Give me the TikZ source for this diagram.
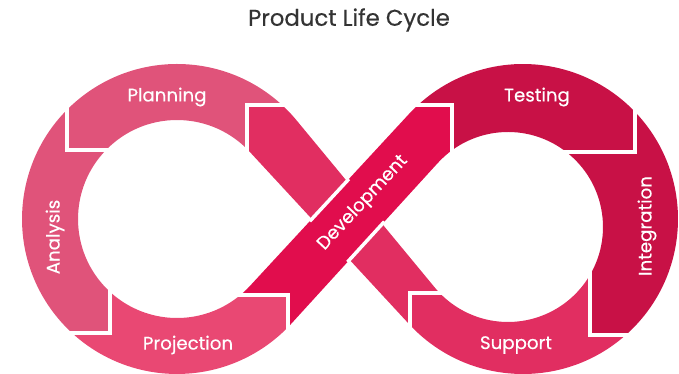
\documentclass[tikz,border=0pt]{standalone}
\usepackage{fontspec}
\setmainfont{Poppins}
\newfontfamily\cyclefont{Poppins}[FakeBold=0.4]
\usetikzlibrary{positioning}

\definecolor{cycplan}{HTML}{E0537A}
\definecolor{cycproj}{HTML}{E94873}
\definecolor{cycsupp}{HTML}{E12E61}
\definecolor{cycdev}{HTML}{E10D4D}
\definecolor{cyctest}{HTML}{C81146}
\definecolor{titlegray}{HTML}{333333}

% Contorno del infinito (con los dos huecos)
\newcommand{\infinityshape}{
    (296.45,253.78) arc[start angle=39.59, end angle=317.65, radius=155]
    -- (349.57,114.24) -- (409.21,49.75)
    arc[start angle=222.77, end angle=497.23, radius=155]
    -- (346.85,192.83) -- cycle
    (311.86,155) -- (249.68,222.22)
    arc[start angle=42.77, end angle=317.23, radius=99] -- cycle
    (382.23,150.06) -- (437.79,211.00)
    arc[start angle=137.65, end angle=-140.41, radius=95] -- cycle
}
% Un tramo = el contorno recortado por un polígono
\newcommand{\segfill}[2]{
    \begin{scope}
        \clip #2;
        \fill[#1, even odd rule] \infinityshape;
    \end{scope}
}

\begin{document}
\begin{tikzpicture}[
        x=1pt, y=1pt,
        % Textos
        titlebox/.style={
                text=titlegray,
                font=\cyclefont\fontsize{22.8}{26}\selectfont
            },
        seglabel/.style={
                text=white,
                font=\cyclefont\fontsize{18.2}{21}\selectfont
            },
        % Juntas blancas
        gapline/.style={
                draw=white,
                line width=3.5pt
            }
    ]
    \useasboundingbox (0,0) rectangle (679,374);

    % Anillo izquierdo
    \segfill{cycplan}{(67,224) -- (67,340) -- (340,340) -- (340,269) -- (247,269) -- (247,224) -- cycle}
    \segfill{cycplan}{(-10,340) -- (67,340) -- (67,224) -- (110,224) -- (110,41) -- (-10,41) -- cycle}
    \segfill{cycproj}{(-10,-10) -- (-10,41) -- (110,41) -- (110,120) -- (200,120) -- (200,79) -- (288,79) -- (288,-10) -- cycle}

    % Anillo derecho
    \segfill{cyctest}{(390,269) -- (452,269) -- (452,200) -- (500,200) -- (500,222) -- (635,222) -- (635,340) -- (390,340) -- cycle}
    \segfill{cyctest}{(635,222) -- (635,340) -- (700,340) -- (700,39) -- (590,39) -- (590,120) -- (540,120) -- (540,222) -- cycle}
    \segfill{cycsupp}{(410,81) -- (480,81) -- (480,120) -- (590,120) -- (590,39) -- (700,39) -- (700,-30) -- (410,-30) -- cycle}

    % Banda cruzada (debajo)
    \segfill{cycsupp}{(247,269) -- (247,200) -- (249.68,222.22) -- (400,59.71) -- (410,30) -- (410,81) -- (470,81) -- (434.79,86.46) -- (300,249.48) -- (310,269) -- cycle}

    % Development (encima)
    \segfill{cycdev}{(200,79) -- (288,79) -- (288,30) -- (300,59.86) -- (437.79,211.00) -- (452,195) -- (452,269) -- (400,269) -- (380,228.66) -- (249.68,87.78) -- cycle}
    \draw[gapline] (309.8,152.8) -- (348.9,195.0);
    \draw[gapline] (347.5,112.0) -- (384.3,152.3);

    % Juntas
    \draw[gapline] (67,300) -- (67,224) -- (120,224);
    \draw[gapline] (110,95) -- (110,41) -- (55,41);
    \draw[gapline] (230,79) -- (288,79) -- (288,35);
    \draw[gapline] (405,269) -- (452,269) -- (452,205);
    \draw[gapline] (635,290) -- (635,222) -- (555,222);
    \draw[gapline] (590,115) -- (590,39) -- (650,39);
    \draw[gapline] (465,81) -- (410,81) -- (410,35);
    \draw[gapline] (247,215) -- (247,269) -- (300,269);

    % Título
    \node[titlebox] (title) at (349,354) {Product Life Cycle};

    % Etiquetas
    \node[seglabel] (planning) at (167,277) {Planning};
    \node[seglabel, rotate=90] (analysis) at (55,137) {Analysis};
    \node[seglabel] (projection) at (188,29) {Projection};
    \node[seglabel, rotate=47] (development) at (363,171) {Development};
    \node[seglabel] (testing) at (537,277) {Testing};
    \node[seglabel, rotate=90] (integration) at (647,148) {Integration};
    \node[seglabel] (support) at (516,29) {Support};

\end{tikzpicture}
\end{document}
